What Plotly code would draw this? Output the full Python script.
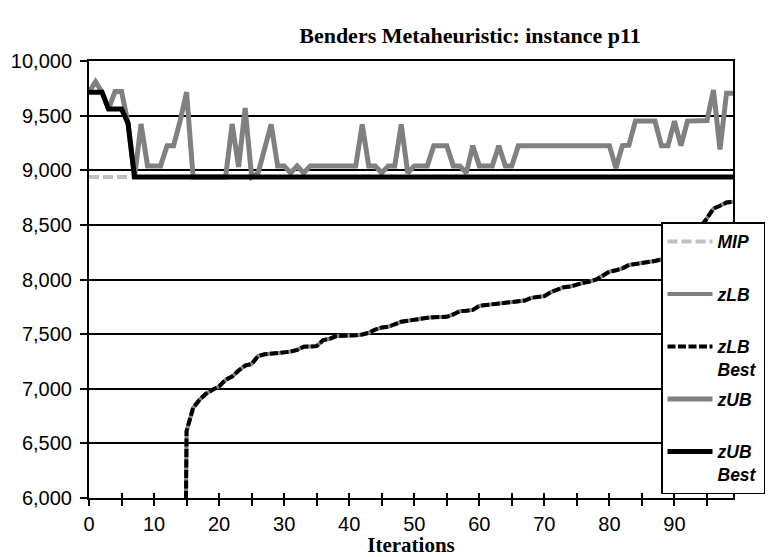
import plotly.graph_objects as go

# ---------------- data ----------------
iterations = list(range(100))

MIP_VALUE = 8938
mip = [MIP_VALUE] * len(iterations)

zlb = [
    0, 0, 0, 0, 0, 0, 0, 0, 0, 0,
    0, 0, 0, 0, 0, 6612, 6824, 6900, 6955, 6990,
    7021, 7082, 7112, 7167, 7212, 7227, 7300, 7315, 7318, 7324,
    7333, 7340, 7355, 7385, 7388, 7390, 7445, 7457, 7482, 7482,
    7488, 7490, 7497, 7512, 7542, 7560, 7567, 7588, 7613, 7622,
    7634, 7643, 7649, 7655, 7655, 7658, 7680, 7710, 7713, 7722,
    7759, 7768, 7777, 7783, 7787, 7793, 7796, 7808, 7832, 7838,
    7848, 7884, 7909, 7930, 7936, 7955, 7970, 7982, 8000, 8036,
    8072, 8084, 8102, 8133, 8142, 8145, 8151, 8169, 8185, 8210,
    8250, 8300, 8360, 8420, 8480, 8560, 8650, 8675, 8705, 8712,
]
zlb_best = list(zlb)

zub = [
    9715, 9810, 9715, 9560, 9720, 9720, 9430, 8938, 9424, 9040,
    9040, 9040, 9225, 9225, 9450, 9715, 8938, 8938, 8938, 8938,
    8938, 8938, 9424, 9030, 9570, 8938, 8975, 9200, 9420, 9040,
    9040, 8975, 9040, 8975, 9040, 9040, 9040, 9040, 9040, 9040,
    9040, 9040, 9420, 9040, 9040, 8975, 9040, 9040, 9420, 8975,
    9040, 9040, 9040, 9225, 9225, 9225, 9040, 9040, 8975, 9225,
    9040, 9040, 9040, 9225, 9040, 9040, 9225, 9225, 9225, 9225,
    9215, 9225, 9225, 9225, 9225, 9225, 9225, 9225, 9225, 9225,
    9225, 9020, 9225, 9230, 9450, 9450, 9450, 9450, 9225, 9225,
    9450, 9225, 9450, 9450, 9450, 9455, 9735, 9190, 9705, 9705,
]

zub_best = [
    9715, 9715, 9715, 9560, 9560, 9560, 9430, 8938, 8938, 8938,
] + [8938] * 90

y_ticks = [6000, 6500, 7000, 7500, 8000, 8500, 9000, 9500, 10000]
x_major = [0, 10, 20, 30, 40, 50, 60, 70, 80, 90]

TITLE = "Benders Metaheuristic: instance p11"
X_TITLE = "Iterations"

# ---------------- figure ----------------
W, H = 781, 557
ML, MR, MT, MB = 89, 48, 61, 59

fig = go.Figure()

PAD = "\u00a0" * 6
series = [
    ("MIP<br>" + PAD, mip, "#c0c0c0", 4, "10px,4px"),
    ("zLB<br>" + PAD, zlb, "#808080", 4, "solid"),
    ("zLB<br>Best", zlb_best, "#000000", 4, "8px,2.5px"),
    ("zUB<br>" + PAD, zub, "#808080", 5, "solid"),
    ("zUB<br>Best", zub_best, "#000000", 5, "solid"),
]
for i, (name, vals, col, w, dash) in enumerate(series):
    fig.add_trace(go.Scatter(
        x=iterations, y=vals, mode="lines", name=name,
        legendgroup=f"g{i}",
        line=dict(color=col, width=w, dash=dash),
        hoverinfo="skip",
    ))

# invisible trace on the overlay axes (used for crossing tick marks)
fig.add_trace(go.Scatter(x=[], y=[], xaxis="x2", yaxis="y2",
                         showlegend=False, hoverinfo="skip"))

tick_font = dict(family="Liberation Sans, Arial", size=20, color="black")

fig.update_layout(
    width=W, height=H,
    margin=dict(l=ML, r=MR, t=MT, b=MB, autoexpand=False),
    paper_bgcolor="white", plot_bgcolor="white",
    title=dict(text=TITLE, x=470 / W, xanchor="center",
               y=1 - 35 / H, yanchor="middle",
               font=dict(family="Liberation Serif, Times New Roman",
                         size=22, color="black", weight="bold")),
    xaxis=dict(
        range=[0, 99], tickmode="array", tickvals=x_major,
        ticktext=[str(v) for v in x_major],
        ticks="outside", ticklen=6, tickwidth=1.5, tickcolor="black",
        minor=dict(dtick=5, tick0=0, ticks="outside", ticklen=6,
                   tickwidth=1.5, tickcolor="black", showgrid=False),
        showline=True, linecolor="black", linewidth=2, mirror=True,
        showgrid=False, zeroline=False,
        tickfont=tick_font, ticklabelstandoff=1,
        title=dict(text=X_TITLE, standoff=1,
                   font=dict(family="Liberation Serif, Times New Roman",
                             size=21, color="black", weight="bold")),
    ),
    yaxis=dict(
        range=[6000, 10000], tickmode="array", tickvals=y_ticks,
        tickformat=",d",
        ticks="outside", ticklen=7, tickwidth=1.5, tickcolor="black",
        showline=True, linecolor="black", linewidth=2, mirror=True,
        showgrid=True, gridcolor="black", gridwidth=1.6,
        zeroline=False, tickfont=tick_font, ticklabelstandoff=4,
    ),
    xaxis2=dict(
        range=[0, 99], overlaying="x", anchor="y2", side="bottom",
        tickmode="linear", tick0=0, dtick=5,
        ticks="inside", ticklen=5, tickwidth=1.5, tickcolor="black",
        showticklabels=False, showgrid=False, zeroline=False,
        showline=False,
    ),
    yaxis2=dict(
        range=[6000, 10000], overlaying="y", anchor="x2", side="left",
        tickmode="array", tickvals=y_ticks,
        ticks="inside", ticklen=4, tickwidth=1.5, tickcolor="black",
        showticklabels=False, showgrid=False, zeroline=False,
        showline=False,
    ),
    legend=dict(
        x=(661 - ML) / (W - ML - MR), xanchor="left",
        y=(H - MB - 222) / (H - MT - MB), yanchor="top",
        bgcolor="white", bordercolor="black", borderwidth=1.5,
        font=dict(family="Liberation Sans, Arial", size=17.5,
                  color="black", weight="bold", style="italic"),
        valign="top", tracegroupgap=4, itemwidth=45,
    ),
    showlegend=True,
)

fig.write_html(
    "out.html",
    config={"displayModeBar": False},
    post_script="document.body.style.margin='0';document.body.style.padding='0';",
)
